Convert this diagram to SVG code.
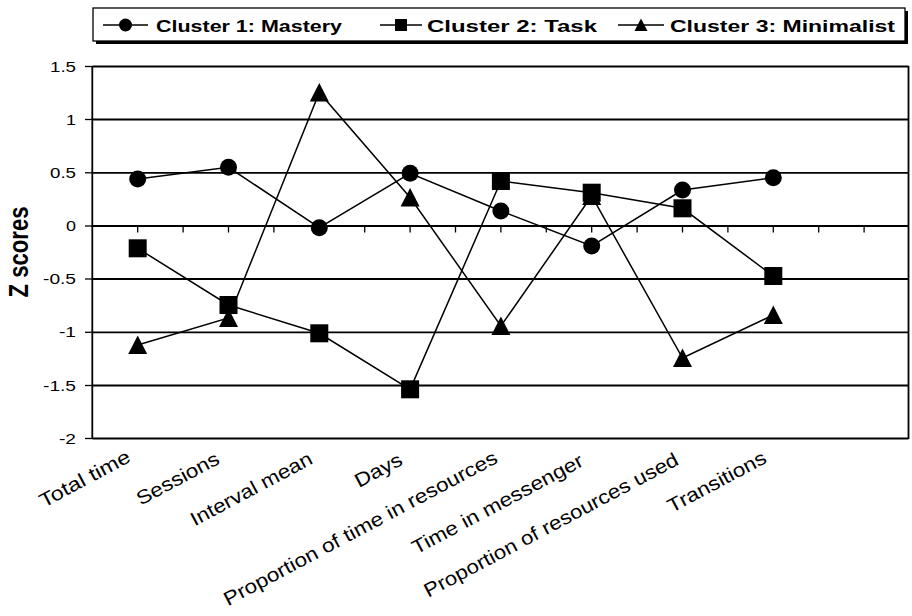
<svg xmlns="http://www.w3.org/2000/svg" width="912" height="616" viewBox="0 0 912 616">
<defs>
<style>
.grid{stroke:#000;stroke-width:1.8;fill:none}
.tick{stroke:#000;stroke-width:1.3}
.ser{stroke:#000;stroke-width:1.5;fill:none}
.mk{fill:#000}
.ylab{font-family:"Liberation Sans",Arial,sans-serif;font-size:14px;fill:#000;text-anchor:end}
.xlab{font-family:"Liberation Sans",Arial,sans-serif;font-size:19.5px;fill:#000;text-anchor:end}
.leg{font-family:"Liberation Sans",Arial,sans-serif;font-size:17px;font-weight:bold;fill:#000}
</style>
<circle id="c" r="8.5"/>
<rect id="s" x="-9" y="-9" width="18" height="18"/>
<polygon id="t" points="0,-9.5 9.5,9 -9.5,9"/>
<circle id="cl" r="6.5"/>
<rect id="sl" x="-6" y="-6" width="12" height="12"/>
<polygon id="tl" points="0,-6.5 6.5,6 -6.5,6"/>
</defs>
<rect width="912" height="616" fill="#fff"/>

<g id="legend">
<rect x="96" y="11" width="812" height="33" fill="#000"/>
<rect x="93" y="8" width="812" height="33" fill="#fff" stroke="#000" stroke-width="1.3"/>
<line x1="103" y1="25" x2="148" y2="25" stroke="#000" stroke-width="1.5"/>
<use href="#cl" x="125.5" y="25"/>
<text class="leg" x="156" y="31.5" textLength="186" lengthAdjust="spacingAndGlyphs">Cluster 1: Mastery</text>
<line x1="380" y1="25" x2="422" y2="25" stroke="#000" stroke-width="1.5"/>
<use href="#sl" x="401" y="25"/>
<text class="leg" x="427" y="31.5" textLength="170" lengthAdjust="spacingAndGlyphs">Cluster 2: Task</text>
<line x1="618" y1="25" x2="664" y2="25" stroke="#000" stroke-width="1.5"/>
<use href="#tl" x="641" y="25"/>
<text class="leg" x="670" y="31.5" textLength="225" lengthAdjust="spacingAndGlyphs">Cluster 3: Minimalist</text>
</g>

<g id="axes">
<line class="grid" x1="92.3" y1="66.5" x2="908.5" y2="66.5"/>
<line class="grid" x1="92.3" y1="119.5" x2="908.5" y2="119.5"/>
<line class="grid" x1="92.3" y1="172.8" x2="908.5" y2="172.8"/>
<line class="grid" x1="92.3" y1="226" x2="908.5" y2="226"/>
<line class="grid" x1="92.3" y1="279" x2="908.5" y2="279"/>
<line class="grid" x1="92.3" y1="332.3" x2="908.5" y2="332.3"/>
<line class="grid" x1="92.3" y1="385.5" x2="908.5" y2="385.5"/>
<line class="grid" x1="92.3" y1="438.5" x2="908.5" y2="438.5"/>
<line class="grid" x1="92.3" y1="66" x2="92.3" y2="439"/>
<line class="grid" x1="908.5" y1="66" x2="908.5" y2="439"/>
<g class="tick">
<line x1="85" y1="66.5" x2="92" y2="66.5"/>
<line x1="85" y1="119.5" x2="92" y2="119.5"/>
<line x1="85" y1="172.8" x2="92" y2="172.8"/>
<line x1="85" y1="226" x2="92" y2="226"/>
<line x1="85" y1="279" x2="92" y2="279"/>
<line x1="85" y1="332.3" x2="92" y2="332.3"/>
<line x1="85" y1="385.5" x2="92" y2="385.5"/>
<line x1="85" y1="438.5" x2="92" y2="438.5"/>
<line x1="137.7" y1="226" x2="137.7" y2="232.5"/>
<line x1="183.1" y1="226" x2="183.1" y2="232.5"/>
<line x1="228.5" y1="226" x2="228.5" y2="232.5"/>
<line x1="273.9" y1="226" x2="273.9" y2="232.5"/>
<line x1="319.3" y1="226" x2="319.3" y2="232.5"/>
<line x1="364.7" y1="226" x2="364.7" y2="232.5"/>
<line x1="410.1" y1="226" x2="410.1" y2="232.5"/>
<line x1="455.5" y1="226" x2="455.5" y2="232.5"/>
<line x1="500.9" y1="226" x2="500.9" y2="232.5"/>
<line x1="546.3" y1="226" x2="546.3" y2="232.5"/>
<line x1="591.7" y1="226" x2="591.7" y2="232.5"/>
<line x1="637.1" y1="226" x2="637.1" y2="232.5"/>
<line x1="682.5" y1="226" x2="682.5" y2="232.5"/>
<line x1="727.9" y1="226" x2="727.9" y2="232.5"/>
<line x1="773.3" y1="226" x2="773.3" y2="232.5"/>
<line x1="818.7" y1="226" x2="818.7" y2="232.5"/>
<line x1="864.1" y1="226" x2="864.1" y2="232.5"/>
</g>
<text class="ylab" x="76" y="71.5" textLength="26" lengthAdjust="spacingAndGlyphs">1.5</text>
<text class="ylab" x="76" y="124.5" textLength="10" lengthAdjust="spacingAndGlyphs">1</text>
<text class="ylab" x="76" y="177.8" textLength="26" lengthAdjust="spacingAndGlyphs">0.5</text>
<text class="ylab" x="76" y="231" textLength="10" lengthAdjust="spacingAndGlyphs">0</text>
<text class="ylab" x="76" y="284" textLength="33" lengthAdjust="spacingAndGlyphs">-0.5</text>
<text class="ylab" x="76" y="337.3" textLength="17" lengthAdjust="spacingAndGlyphs">-1</text>
<text class="ylab" x="76" y="390.5" textLength="33" lengthAdjust="spacingAndGlyphs">-1.5</text>
<text class="ylab" x="76" y="443.5" textLength="17" lengthAdjust="spacingAndGlyphs">-2</text>
<text transform="translate(28,252) scale(1.35,1) rotate(-90)" font-family="Liberation Sans,Arial,sans-serif" font-size="21" font-weight="bold" text-anchor="middle" textLength="91" lengthAdjust="spacingAndGlyphs">Z scores</text>
</g>

<g id="categories">
<text class="xlab" transform="translate(132,461) rotate(-28)" textLength="100" lengthAdjust="spacingAndGlyphs">Total time</text>
<text class="xlab" transform="translate(221,463) rotate(-28)" textLength="91" lengthAdjust="spacingAndGlyphs">Sessions</text>
<text class="xlab" transform="translate(314,463) rotate(-28)" textLength="135" lengthAdjust="spacingAndGlyphs">Interval mean</text>
<text class="xlab" transform="translate(404,464) rotate(-28)" textLength="51" lengthAdjust="spacingAndGlyphs">Days</text>
<text class="xlab" transform="translate(499,462) rotate(-28)" textLength="307" lengthAdjust="spacingAndGlyphs">Proportion of time in resources</text>
<text class="xlab" transform="translate(585,465) rotate(-28)" textLength="191" lengthAdjust="spacingAndGlyphs">Time in messenger</text>
<text class="xlab" transform="translate(680,464) rotate(-28)" textLength="285" lengthAdjust="spacingAndGlyphs">Proportion of resources used</text>
<text class="xlab" transform="translate(768,462) rotate(-28)" textLength="109" lengthAdjust="spacingAndGlyphs">Transitions</text>
</g>

<g id="connectors">
<polyline id="line3" class="ser" points="137.7,345 228.5,318 319.3,92.5 410.1,197.5 500.9,326 591.7,196 682.5,358 773.3,315"/>
<polyline id="line1" class="ser" points="137.7,179 228.5,167.3 319.3,227.7 410.1,173.3 500.9,211 591.7,246 682.5,190 773.3,177.7"/>
<polyline id="line2" class="ser" points="137.7,248.3 228.5,305 319.3,333.3 410.1,389.3 500.9,181 591.7,192.7 682.5,208.3 773.3,276"/>
</g>

<g id="cluster3" class="mk">
<use href="#t" x="137.7" y="345"/>
<use href="#t" x="228.5" y="318"/>
<use href="#t" x="319.3" y="92.5"/>
<use href="#t" x="410.1" y="197.5"/>
<use href="#t" x="500.9" y="326"/>
<use href="#t" x="591.7" y="196"/>
<use href="#t" x="682.5" y="358"/>
<use href="#t" x="773.3" y="315"/>
</g>
<g id="cluster1" class="mk">
<use href="#c" x="137.7" y="179"/>
<use href="#c" x="228.5" y="167.3"/>
<use href="#c" x="319.3" y="227.7"/>
<use href="#c" x="410.1" y="173.3"/>
<use href="#c" x="500.9" y="211"/>
<use href="#c" x="591.7" y="246"/>
<use href="#c" x="682.5" y="190"/>
<use href="#c" x="773.3" y="177.7"/>
</g>
<g id="cluster2" class="mk">
<use href="#s" x="137.7" y="248.3"/>
<use href="#s" x="228.5" y="305"/>
<use href="#s" x="319.3" y="333.3"/>
<use href="#s" x="410.1" y="389.3"/>
<use href="#s" x="500.9" y="181"/>
<use href="#s" x="591.7" y="192.7"/>
<use href="#s" x="682.5" y="208.3"/>
<use href="#s" x="773.3" y="276"/>
</g>
</svg>
